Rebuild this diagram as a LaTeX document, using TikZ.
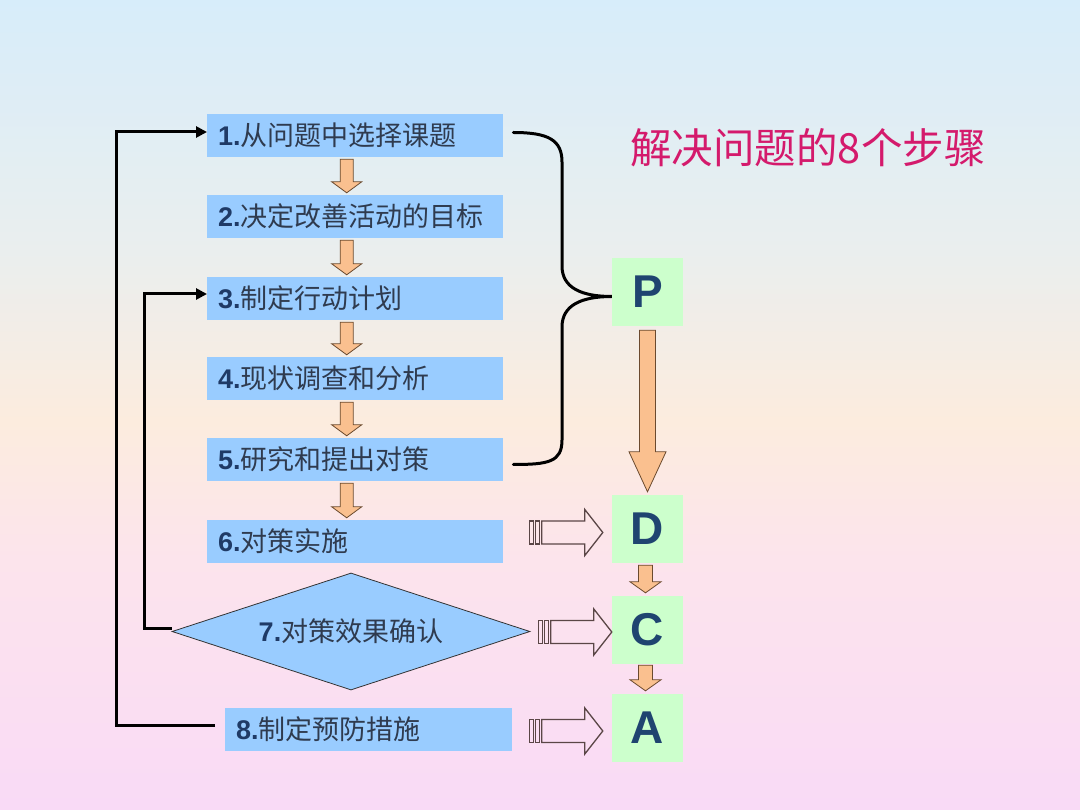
\documentclass[tikz,border=0pt]{standalone}
\usepackage{fontspec}
\newfontfamily\cjk{Noto Sans CJK SC}
\newfontfamily\lat{Liberation Sans}
\usetikzlibrary{calc,shapes.geometric,arrows.meta}
\definecolor{boxblue}{HTML}{99CCFF}
\definecolor{numc}{HTML}{1F3A66}
\definecolor{txtc}{HTML}{2F3B4F}
\definecolor{pgreen}{HTML}{CCFFCC}
\definecolor{letc}{HTML}{1F4470}
\definecolor{orangef}{HTML}{FAC08F}
\definecolor{oline}{HTML}{6B4A2E}
\definecolor{titlec}{HTML}{D41A6C}
\definecolor{sline}{HTML}{5A4646}
\definecolor{bga}{HTML}{F9DAF6}
\definecolor{bgb}{HTML}{FCE4EC}
\definecolor{bgc}{HTML}{FCECDE}
\definecolor{bgd}{HTML}{EAEEEE}
\definecolor{bge}{HTML}{D7EDFA}
\pgfdeclareverticalshading{bgshade}{100bp}{color(0bp)=(bga); color(25bp)=(bga); color(40.5bp)=(bgb); color(49bp)=(bgc); color(59.5bp)=(bgd); color(75bp)=(bge); color(100bp)=(bge)}
\newcommand\stxt[2]{{\lat\bfseries\color{numc}#1.}{\cjk\color{txtc}#2}}
\newcommand\fatdown[5]{\draw[oarrow] ($(#1)+(-#3,0)$) -- ($(#1)+(#3,0)$) -- ($(#2)+(#3,-#5)$) -- ($(#2)+(#4,-#5)$) -- (#2) -- ($(#2)+(-#4,-#5)$) -- ($(#2)+(-#3,-#5)$) -- cycle;}
\newcommand\striparrow[2]{%
\draw[sarrow] ($(#1)+(0,-11.5)$) rectangle ($(#1)+(4,11.5)$);
\draw[sarrow] ($(#1)+(6,-11.5)$) rectangle ($(#1)+(10,11.5)$);
\draw[sarrow] ($(#1)+(12,-11.5)$) -- ($(#2)+(-18,-11.5)$) -- ($(#2)+(-18,-23)$) -- (#2) -- ($(#2)+(-18,23)$) -- ($(#2)+(-18,11.5)$) -- ($(#1)+(12,11.5)$) -- cycle;}
\tikzset{
  stepbox/.style={fill=boxblue, draw=none, anchor=west, minimum height=43pt, inner xsep=11pt, inner ysep=0pt, text width=274pt, align=left, font=\fontsize{27}{30}\selectfont},
  pdca/.style={fill=pgreen, draw=none, minimum width=71pt, minimum height=68pt, inner sep=0pt, font=\lat\bfseries\fontsize{46}{50}\selectfont, text=letc},
  decide/.style={diamond, aspect=3.06, minimum width=358pt, minimum height=117pt, inner sep=0pt, fill=boxblue, draw=black!80, line width=0.8pt, font=\fontsize{27}{30}\selectfont},
  oarrow/.style={fill=orangef, draw=oline, line width=0.8pt, line join=miter},
  sarrow/.style={draw=sline, line width=1.3pt, fill=none},
  fb/.style={draw=black, line width=3pt, -{Triangle[length=11pt,width=11pt]}},
  bracel/.style={draw=black, line width=3pt, line cap=round}
}
\begin{document}
\begin{tikzpicture}[x=1pt,y=-1pt]
\useasboundingbox (0,0) rectangle (1080,810);
\shade[shading=bgshade] (0,0) rectangle (1080,810);
% title
\node[text=titlec, font=\cjk\fontsize{41.5}{45}\selectfont, inner sep=0pt] (title) at (808,148) {解决问题的8个步骤};
% step boxes
\node[stepbox] (b1) at (207,135.5) {\stxt{1}{从问题中选择课题}};
\node[stepbox] (b2) at (207,216.5) {\stxt{2}{决定改善活动的目标}};
\node[stepbox] (b3) at (207,298.5) {\stxt{3}{制定行动计划}};
\node[stepbox] (b4) at (207,378.5) {\stxt{4}{现状调查和分析}};
\node[stepbox] (b5) at (207,459.5) {\stxt{5}{研究和提出对策}};
\node[stepbox] (b6) at (207,541.5) {\stxt{6}{对策实施}};
\node[decide] (d7) at (351,631.5) {\stxt{7}{对策效果确认}};
\node[stepbox, text width=265pt] (b8) at (225,729.5) {\stxt{8}{制定预防措施}};
% PDCA
\node[pdca] (P) at (647.5,292) {P};
\node[pdca] (D) at (647.5,529) {D};
\node[pdca] (C) at (647.5,630) {C};
\node[pdca] (A) at (647.5,728) {A};
% arrows between steps
\foreach \i/\j in {1/2,2/3,3/4,4/5,5/6}{
  \coordinate (t\i) at ($(b\i.south)+(-8.5,2)$);
  \coordinate (h\j) at ($(b\j.north)+(-8.5,-2)$);
  \fatdown{t\i}{h\j}{6.5}{15}{11}
}
% PDCA arrows
\coordinate (pt) at ($(P.south)+(0,4)$);
\coordinate (dt) at ($(D.north)+(0,-3)$);
\fatdown{pt}{dt}{8}{18.5}{40}
\coordinate (ds) at ($(D.south)+(-2,2)$);
\coordinate (cn) at ($(C.north)+(-2,-3)$);
\fatdown{ds}{cn}{7}{15.5}{11}
\coordinate (cs) at ($(C.south)+(-2,1)$);
\coordinate (an) at ($(A.north)+(-2,-3)$);
\fatdown{cs}{an}{7}{15.5}{11}
% striped arrows
\coordinate (dtip) at ($(D.west)+(-9,3.5)$);
\coordinate (dtail) at ($(dtip)+(-73,0)$);
\striparrow{dtail}{dtip}
\coordinate (ctip) at ($(C.west)+(0,2)$);
\coordinate (ctail) at ($(ctip)+(-73,0)$);
\striparrow{ctail}{ctip}
\coordinate (atip) at ($(A.west)+(-9,3)$);
\coordinate (atail) at ($(atip)+(-73,0)$);
\striparrow{atail}{atip}
% feedback lines
\coordinate (colA) at (116.5,0);
\coordinate (colB) at (144.5,0);
\coordinate (s8) at ($(b8.west)+(-10,-4.5)$);
\coordinate (e1) at ($(b1.west)+(0,-3.5)$);
\draw[fb] (s8) -- (s8 -| colA) -- (colA |- e1) -- (e1);
\coordinate (s7) at ($(d7.west)+(0,-3.5)$);
\coordinate (e3) at ($(b3.west)+(0,-4.5)$);
\draw[fb] (s7) -- (s7 -| colB) -- (colB |- e3) -- (e3);
% brace
\coordinate (bs) at ($(b1.east)+(10,-3)$);
\coordinate (be) at ($(b5.east)+(10,5)$);
\coordinate (btip) at ($(P.west)+(0,4.5)$);
\draw[bracel] (bs) .. controls +(35,0) and +(0,-22) .. (562,162) -- (562,266) .. controls +(0,22) and +(-30,0) .. (btip)
  .. controls +(-30,0) and +(0,-22) .. (562,327) -- (562,440) .. controls +(0,22) and +(35,0) .. (be);
\end{tikzpicture}
\end{document}
